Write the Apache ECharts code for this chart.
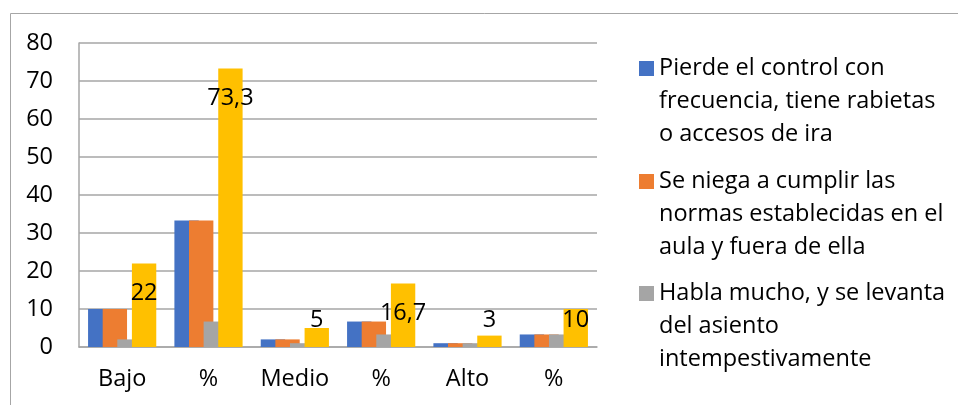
<!DOCTYPE html>
<html>
<head>
<meta charset="utf-8">
<script src="https://cdn.jsdelivr.net/npm/echarts@6/dist/echarts.min.js"></script>
<style>
html, body { margin: 0; padding: 0; background: #fff; }
#main { width: 958px; height: 405px; }
</style>
</head>
<body>
<div id="main"></div>
<script>
var categories = ['Bajo', '%', 'Medio', '%', 'Alto', '%'];
var seriesNames = [
	'Pierde el control con\nfrecuencia, tiene rabietas\no accesos de ira',
	'Se niega a cumplir las\nnormas establecidas en el\naula y fuera de ella',
	'Habla mucho, y se levanta\ndel asiento\nintempestivamente',
	'Total'
];
var pierdeControl = [10, 33.3, 2, 6.7, 1, 3.3];
var seNiega = [10, 33.3, 2, 6.7, 1, 3.3];
var hablaMucho = [2, 6.7, 1, 3.3, 1, 3.3];
var total = [22, 73.3, 5, 16.7, 3, 10];
var yTicks = { min: 0, max: 80, interval: 10 };

var colors = ['#4472C4', '#ED7D31', '#A5A5A5', '#FFC000'];
var fontName = 'Open Sans';
var fontSize = 23.5;
var gridColor = '#a6a6a6';

var chart = echarts.init(document.getElementById('main'));

// una leyenda por serie; dos lineas vacias arriba para que el icono quede en la primera linea
var legendTops = [-14, 99, 211];
var legends = [];
for(var i = 0; i < 3; i++){
	legends.push({
		data: [seriesNames[i]],
		orient: 'vertical',
		left: 639,
		top: legendTops[i],
		padding: 0,
		itemWidth: 15,
		itemHeight: 15,
		icon: 'rect',
		selectedMode: false,
		formatter: function(name){
			return '\n\n' + name;
		},
		textStyle: {
			fontFamily: fontName,
			fontSize: fontSize,
			color: '#000',
			lineHeight: 33
		}
	});
}

function barSeries(idx, values){
	return {
		name: seriesNames[idx],
		type: 'bar',
		data: values,
		barGap: '-40%',
		barCategoryGap: '21%',
		itemStyle: { color: colors[idx] },
		emphasis: { disabled: true },
		animation: false
	};
}

var totalSeries = barSeries(3, total);
totalSeries.label = {
	show: true,
	fontFamily: fontName,
	fontSize: fontSize,
	color: '#000',
	formatter: function(p){
		return String(p.value).replace('.', ',');
	}
};
// etiqueta dentro del extremo, sin bajar de la base
totalSeries.labelLayout = function(p){
	var r = p.rect;
	var cy = Math.min(r.y + 30, r.y + r.height - 27);
	return { x: r.x + r.width / 2, y: cy, align: 'center', verticalAlign: 'middle' };
};

var option = {
	backgroundColor: '#fff',
	animation: false,
	color: colors,
	graphic: [{
		type: 'rect',
		shape: { x: 10.5, y: 13.5, width: 960, height: 400 },
		style: { fill: 'none', stroke: gridColor, lineWidth: 1 },
		silent: true
	}],
	legend: legends,
	grid: { left: 79, right: 361, top: 43, bottom: 58 },
	xAxis: {
		type: 'category',
		data: categories,
		axisLine: { show: true, lineStyle: { color: gridColor, width: 1.5 } },
		axisTick: { show: false },
		axisLabel: { interval: 0, fontFamily: fontName, fontSize: fontSize, color: '#000', margin: 20 }
	},
	yAxis: {
		type: 'value',
		min: yTicks.min,
		max: yTicks.max,
		interval: yTicks.interval,
		axisLine: { show: true, lineStyle: { color: gridColor, width: 1.5 } },
		axisTick: { show: false },
		axisLabel: { fontFamily: fontName, fontSize: fontSize, color: '#000', margin: 26 },
		splitLine: { lineStyle: { color: gridColor, width: 1.5 } }
	},
	series: [
		barSeries(0, pierdeControl),
		barSeries(1, seNiega),
		barSeries(2, hablaMucho),
		totalSeries
	]
};

chart.setOption(option);
</script>
</body>
</html>
